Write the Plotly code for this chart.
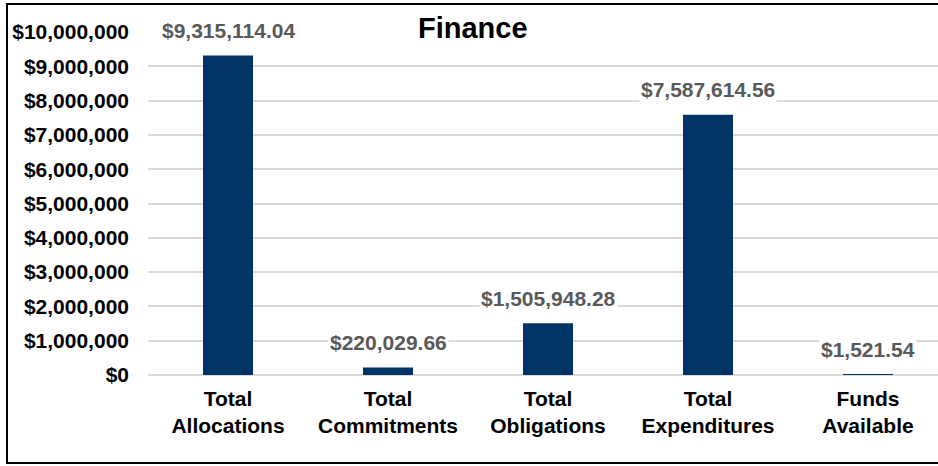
import plotly.graph_objects as go

categories = ["Total<br>Allocations", "Total<br>Commitments", "Total<br>Obligations",
              "Total<br>Expenditures", "Funds<br>Available"]
values = [9315114.04, 220029.66, 1505948.28, 7587614.56, 1521.54]
label_texts = ["$9,315,114.04", "$220,029.66", "$1,505,948.28", "$7,587,614.56", "$1,521.54"]
tick_vals = [0, 1e6, 2e6, 3e6, 4e6, 5e6, 6e6, 7e6, 8e6, 9e6, 10e6]
tick_text = ["$0", "$1,000,000", "$2,000,000", "$3,000,000", "$4,000,000", "$5,000,000",
             "$6,000,000", "$7,000,000", "$8,000,000", "$9,000,000", "$10,000,000"]
title_text = "Finance"

FONT = "Liberation Sans, Arial, sans-serif"
BAR = "#003366"

fig = go.Figure()
fig.add_trace(go.Bar(
    x=list(range(len(categories))), y=values,
    marker=dict(color=BAR, line=dict(width=0)),
    width=0.3125,
    hoverinfo="skip",
))

annotations = []
for i, (v, t) in enumerate(zip(values, label_texts)):
    annotations.append(dict(
        x=i, y=v, xref="x", yref="y", text="<b>%s</b>" % t, showarrow=False,
        yanchor="middle", xanchor="center", yshift=25,
        font=dict(family=FONT, size=21, color="#595959"),
        bgcolor="white", borderpad=1,
    ))
annotations.append(dict(
    x=(473 - 148) / 790, y=(375 - 28) / 343, xref="paper", yref="paper",
    text="<b>%s</b>" % title_text, showarrow=False,
    xanchor="center", yanchor="middle",
    font=dict(family=FONT, size=29, color="black"),
    bgcolor="white", borderpad=5,
))

fig.update_layout(
    width=938, height=466,
    margin=dict(l=148, r=0, t=32, b=91),
    paper_bgcolor="white", plot_bgcolor="white",
    showlegend=False,
    annotations=annotations,
    shapes=[dict(type="rect", xref="paper", yref="paper",
                 x0=(7 - 148) / 790, x1=1.02, y0=(375 - 463) / 343, y1=(375 - 4) / 343,
                 line=dict(color="black", width=2), fillcolor="rgba(0,0,0,0)", layer="below")],
    xaxis=dict(
        range=[-0.5, 4.4375],
        tickmode="array", tickvals=list(range(len(categories))),
        ticktext=["<b>%s</b>" % c for c in categories],
        showgrid=False, zeroline=False, showline=False, ticks="",
        tickfont=dict(family=FONT, size=21, color="black"),
        ticklabelstandoff=9,
    ),
    yaxis=dict(
        range=[0, 10e6],
        tickmode="array", tickvals=tick_vals, ticktext=["<b>%s</b>" % s for s in tick_text],
        showgrid=True, gridcolor="#d9d9d9", gridwidth=1.5,
        zeroline=True, zerolinecolor="#d9d9d9", zerolinewidth=1.5,
        showline=False, ticks="",
        tickfont=dict(family=FONT, size=21, color="black"),
        ticklabelstandoff=18,
    ),
)

fig.write_html("out.html", config={"displayModeBar": False},
               post_script="document.body.style.margin='0';document.body.style.padding='0';")
